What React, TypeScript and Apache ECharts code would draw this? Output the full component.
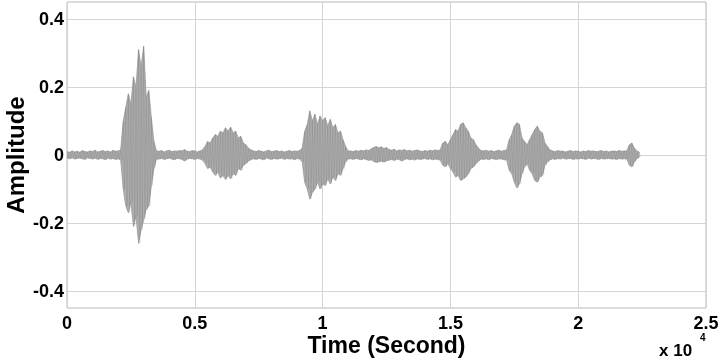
import React, { useEffect, useRef } from "react";
import * as echarts from "echarts";

// One envelope value every `sampleStep` samples (index i -> sample i*sampleStep)
const sampleStep = 100;

const upperEnv = [
  // noise 0-20
  0.010, 0.008, 0.012, 0.009, 0.011, 0.008, 0.013, 0.010, 0.009, 0.012, 0.010, 0.014, 0.009, 0.011, 0.013, 0.010, 0.012, 0.009, 0.014, 0.011, 0.012,
  // burst 1 (21-35)
  0.015, 0.10, 0.14, 0.18, 0.15, 0.23, 0.20, 0.31, 0.26, 0.32, 0.17, 0.19, 0.11, 0.04, 0.012,
  // noise 36-52
  0.011, 0.013, 0.009, 0.012, 0.014, 0.010, 0.012, 0.011, 0.013, 0.012, 0.016, 0.011, 0.010, 0.013, 0.012, 0.009, 0.012,
  // burst 2 (53-72)
  0.015, 0.025, 0.04, 0.035, 0.05, 0.06, 0.055, 0.07, 0.065, 0.08, 0.07, 0.082, 0.065, 0.07, 0.05, 0.055, 0.035, 0.03, 0.02, 0.015,
  // noise 73-91
  0.012, 0.010, 0.013, 0.011, 0.009, 0.012, 0.014, 0.010, 0.011, 0.013, 0.010, 0.012, 0.009, 0.011, 0.013, 0.010, 0.012, 0.011, 0.013,
  // burst 3 (92-110)
  0.02, 0.07, 0.09, 0.13, 0.10, 0.12, 0.09, 0.115, 0.10, 0.11, 0.085, 0.105, 0.08, 0.09, 0.065, 0.07, 0.045, 0.025, 0.012,
  // noise + small bump 111-145
  0.012, 0.010, 0.013, 0.011, 0.014, 0.012, 0.015, 0.013, 0.018, 0.022, 0.025, 0.021, 0.024, 0.019, 0.022, 0.016, 0.014, 0.017, 0.012, 0.015,
  0.013, 0.016, 0.012, 0.014, 0.011, 0.013, 0.015, 0.012, 0.010, 0.013, 0.011, 0.014, 0.012, 0.015, 0.013,
  // burst 4 (146-162)
  0.015, 0.035, 0.04, 0.03, 0.045, 0.06, 0.075, 0.07, 0.09, 0.095, 0.08, 0.07, 0.05, 0.045, 0.03, 0.02, 0.013,
  // noise 163-171
  0.012, 0.014, 0.011, 0.013, 0.010, 0.012, 0.014, 0.011, 0.013,
  // burst 5 (172-189)
  0.015, 0.045, 0.06, 0.085, 0.095, 0.09, 0.05, 0.04, 0.03, 0.045, 0.06, 0.075, 0.085, 0.07, 0.065, 0.035, 0.025, 0.015,
  // noise 190-218
  0.012, 0.010, 0.013, 0.011, 0.012, 0.009, 0.011, 0.013, 0.010, 0.012, 0.011, 0.009, 0.012, 0.010, 0.013, 0.011, 0.012, 0.010, 0.011, 0.013,
  0.010, 0.012, 0.009, 0.011, 0.012, 0.010, 0.013, 0.011, 0.012,
  // tail click 219-224
  0.012, 0.03, 0.035, 0.02, 0.012, 0.008,
];

const lowerEnv = [
  -0.009, -0.011, -0.008, -0.012, -0.010, -0.009, -0.011, -0.013, -0.008, -0.010, -0.012, -0.009, -0.013, -0.010, -0.011, -0.014, -0.009, -0.012, -0.010, -0.013, -0.011,
  -0.015, -0.10, -0.15, -0.17, -0.14, -0.21, -0.18, -0.26, -0.22, -0.19, -0.16, -0.15, -0.09, -0.04, -0.012,
  -0.012, -0.010, -0.013, -0.011, -0.009, -0.012, -0.014, -0.010, -0.011, -0.013, -0.018, -0.012, -0.010, -0.011, -0.013, -0.010, -0.012,
  -0.015, -0.025, -0.04, -0.035, -0.05, -0.06, -0.05, -0.068, -0.06, -0.072, -0.06, -0.07, -0.055, -0.06, -0.04, -0.045, -0.03, -0.025, -0.018, -0.013,
  -0.011, -0.013, -0.010, -0.012, -0.014, -0.009, -0.011, -0.013, -0.010, -0.012, -0.011, -0.009, -0.013, -0.010, -0.012, -0.011, -0.014, -0.010, -0.012,
  -0.02, -0.08, -0.10, -0.13, -0.11, -0.10, -0.08, -0.10, -0.085, -0.09, -0.07, -0.085, -0.065, -0.075, -0.055, -0.06, -0.04, -0.02, -0.012,
  -0.011, -0.013, -0.010, -0.012, -0.014, -0.011, -0.013, -0.016, -0.014, -0.019, -0.022, -0.020, -0.018, -0.021, -0.017, -0.015, -0.013, -0.016, -0.012, -0.014,
  -0.018, -0.013, -0.011, -0.014, -0.012, -0.015, -0.011, -0.013, -0.012, -0.010, -0.013, -0.011, -0.014, -0.012, -0.013,
  -0.015, -0.03, -0.035, -0.025, -0.04, -0.05, -0.065, -0.06, -0.075, -0.07, -0.065, -0.055, -0.04, -0.035, -0.025, -0.018, -0.012,
  -0.013, -0.011, -0.014, -0.010, -0.012, -0.013, -0.011, -0.012, -0.014,
  -0.015, -0.045, -0.055, -0.08, -0.097, -0.085, -0.055, -0.035, -0.025, -0.045, -0.055, -0.075, -0.08, -0.065, -0.06, -0.03, -0.02, -0.014,
  -0.011, -0.013, -0.010, -0.012, -0.009, -0.012, -0.011, -0.010, -0.013, -0.011, -0.012, -0.010, -0.011, -0.013, -0.009, -0.012, -0.010, -0.011, -0.013, -0.010,
  -0.012, -0.011, -0.010, -0.012, -0.011, -0.013, -0.010, -0.012, -0.011,
  -0.012, -0.03, -0.035, -0.02, -0.01, -0.006,
];

const xTickValues = [0, 5000, 10000, 15000, 20000, 25000];
const xTickLabels = ["0", "0.5", "1", "1.5", "2", "2.5"];
const yTickValues = [-0.4, -0.2, 0, 0.2, 0.4];
const yTickLabels = ["-0.4", "-0.2", "0", "0.2", "0.4"];

const FONT = "'Liberation Sans', Arial, sans-serif";

export default function App() {
  const ref = useRef<HTMLDivElement>(null);
  useEffect(() => {
    if (!ref.current) return;
    const chart = echarts.init(ref.current, null, { renderer: "svg" });
    const upperData = upperEnv.map((v, i) => [i * sampleStep, v]);
    const lowerData = lowerEnv.map((v, i) => [i * sampleStep, v]);
    const trace: number[][] = [];
    upperEnv.forEach((v, i) => {
      trace.push([i * sampleStep, v]);
      trace.push([i * sampleStep + sampleStep / 2, lowerEnv[i]]);
    });
    const labelStyle = { color: "#000", fontWeight: "bold" as const, fontSize: 18, fontFamily: FONT };
    chart.setOption({
      animation: false,
      grid: {
        left: 67, right: 14, top: 2, bottom: 51,
        containLabel: false, outerBoundsMode: "none",
        show: true, borderColor: "#b8b8b8", borderWidth: 1,
      },
      xAxis: {
        type: "value",
        min: 0,
        max: 25000,
        interval: 5000,
        axisLine: { show: false },
        axisTick: { show: false },
        splitLine: { show: true, lineStyle: { color: "#d4d4d4", width: 1 } },
        axisLabel: {
          ...labelStyle,
          lineHeight: 16,
          margin: 7,
          formatter: (v: number) => {
            const k = xTickValues.indexOf(v);
            return k >= 0 ? xTickLabels[k] : "";
          },
        },
      },
      yAxis: {
        type: "value",
        min: -0.45,
        max: 0.45,
        interval: 0.05,
        axisLine: { show: false },
        axisTick: { show: false },
        splitLine: { show: false },
        axisLabel: {
          ...labelStyle,
          margin: 3,
          formatter: (v: number) => {
            const k = yTickValues.findIndex((t) => Math.abs(t - v) < 1e-6);
            return k >= 0 ? yTickLabels[k] : "";
          },
        },
      },
      graphic: [
        {
          type: "text", x: 386.5, y: 345,
          style: { text: "Time (Second)", fontSize: 23, lineHeight: 22, fontWeight: "bold", fontFamily: FONT, fill: "#000", align: "center", verticalAlign: "middle" },
        },
        {
          type: "text", x: 15, y: 155, rotation: Math.PI / 2,
          style: { text: "Amplitude", fontSize: 24, fontWeight: "bold", fontFamily: FONT, fill: "#000", align: "center", verticalAlign: "middle" },
        },
        { type: "text", left: 659, top: 342, style: { text: "x 10", fontSize: 17, fontWeight: "bold", fontFamily: FONT, fill: "#000" } },
        { type: "text", left: 700, top: 332, style: { text: "4", fontSize: 10, fontWeight: "bold", fontFamily: FONT, fill: "#000" } },
      ],
      series: [
        {
          type: "line",
          data: upperData,
          symbol: "none",
          silent: true,
          lineStyle: { color: "#9a9a9a", width: 0.8 },
          areaStyle: { color: "#adadad", opacity: 1 },
          z: 2,
          markLine: {
            silent: true,
            symbol: "none",
            label: { show: false },
            lineStyle: { color: "#d4d4d4", width: 1, type: "solid" },
            data: yTickValues.map((t) => ({ yAxis: t })),
            z: 1,
          },
        },
        {
          type: "line",
          data: lowerData,
          symbol: "none",
          silent: true,
          lineStyle: { color: "#9a9a9a", width: 0.8 },
          areaStyle: { color: "#adadad", opacity: 1 },
          z: 2,
        },
        {
          type: "line",
          data: trace,
          symbol: "none",
          silent: true,
          lineStyle: { color: "#333333", width: 0.5, opacity: 0.2 },
          z: 3,
        },
      ],
    });
    return () => chart.dispose();
  }, []);
  return <div ref={ref} style={{ position: "fixed", left: 0, top: 0, width: 720, height: 359 }} />;
}
